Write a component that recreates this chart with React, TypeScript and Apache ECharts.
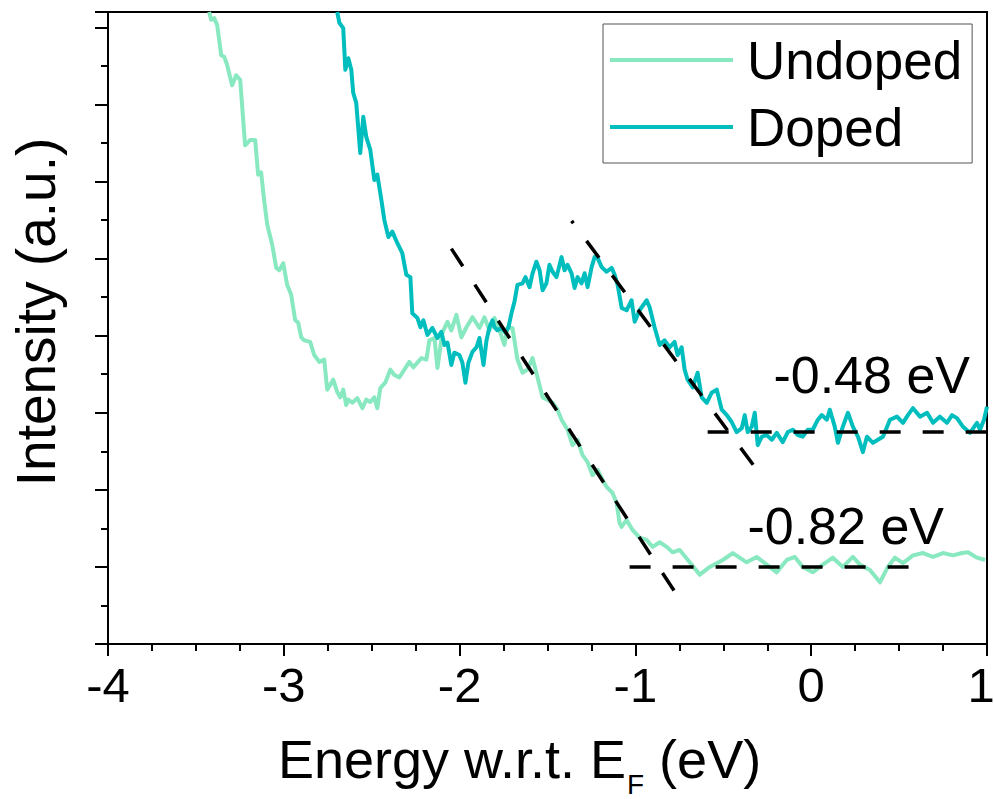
import React, { useEffect, useRef } from "react";
import * as echarts from "echarts";

// Energy w.r.t. E_F (eV), Intensity (a.u.)
const undoped: [number, number][] = [
  [-3.425, 8.2], [-3.413, 8.1], [-3.396, 8.12], [-3.379, 8.03], [-3.356, 7.64], [-3.339, 7.62],
  [-3.322, 7.51], [-3.294, 7.25], [-3.271, 7.38], [-3.248, 7.32], [-3.231, 6.8], [-3.22, 6.47],
  [-3.191, 6.54], [-3.163, 6.54], [-3.146, 6.09], [-3.129, 6.12], [-3.112, 5.76], [-3.094, 5.44],
  [-3.066, 5.18], [-3.043, 4.88], [-3.026, 4.85], [-3.003, 4.94], [-2.981, 4.66], [-2.958, 4.53],
  [-2.935, 4.2], [-2.918, 4.17], [-2.901, 3.98], [-2.884, 3.94], [-2.85, 3.92], [-2.827, 3.75],
  [-2.798, 3.66], [-2.77, 3.69], [-2.753, 3.3], [-2.736, 3.36], [-2.719, 3.43], [-2.696, 3.27],
  [-2.679, 3.2], [-2.662, 3.3], [-2.645, 3.1], [-2.633, 3.17], [-2.61, 3.13], [-2.582, 3.19],
  [-2.553, 3.06], [-2.531, 3.17], [-2.508, 3.14], [-2.485, 3.2], [-2.468, 3.06], [-2.451, 3.32],
  [-2.423, 3.39], [-2.394, 3.56], [-2.371, 3.49], [-2.343, 3.46], [-2.314, 3.56], [-2.286, 3.66],
  [-2.263, 3.59], [-2.24, 3.65], [-2.217, 3.71], [-2.189, 3.69], [-2.172, 3.94], [-2.143, 3.97],
  [-2.126, 3.58], [-2.098, 4.04], [-2.069, 4.18], [-2.047, 4.07], [-2.018, 4.27], [-1.99, 3.98],
  [-1.961, 4.11], [-1.927, 4.24], [-1.887, 4.1], [-1.859, 4.24], [-1.83, 4.07], [-1.802, 4.23],
  [-1.773, 4.07], [-1.745, 3.88], [-1.728, 4.1], [-1.699, 4.1], [-1.671, 3.69], [-1.642, 3.52],
  [-1.614, 3.56], [-1.585, 3.71], [-1.557, 3.46], [-1.528, 3.2], [-1.5, 3.17], [-1.471, 3.13],
  [-1.443, 3.04], [-1.42, 2.91], [-1.386, 2.78], [-1.358, 2.58], [-1.329, 2.65], [-1.301, 2.45],
  [-1.272, 2.36], [-1.244, 2.19], [-1.215, 2.26], [-1.187, 2.13], [-1.164, 2.04], [-1.13, 1.96],
  [-1.107, 1.83], [-1.09, 1.57], [-1.079, 1.52], [-1.05, 1.61], [-1.016, 1.48], [-0.976, 1.38],
  [-0.936, 1.35], [-0.902, 1.26], [-0.862, 1.32], [-0.822, 1.26], [-0.788, 1.19], [-0.748, 1.22],
  [-0.691, 1.06], [-0.634, 0.9], [-0.577, 1.0], [-0.503, 1.09], [-0.446, 1.18], [-0.367, 1.06],
  [-0.31, 1.13], [-0.253, 1.03], [-0.196, 0.93], [-0.139, 1.09], [-0.093, 1.13], [-0.048, 1.0],
  [0.009, 0.93], [0.066, 1.03], [0.123, 1.12], [0.18, 1.0], [0.237, 1.13], [0.277, 1.03],
  [0.334, 0.96], [0.391, 0.8], [0.436, 1.0], [0.476, 1.12], [0.522, 1.05], [0.579, 1.15],
  [0.636, 1.18], [0.693, 1.13], [0.75, 1.18], [0.806, 1.15], [0.858, 1.18], [0.892, 1.19],
  [0.943, 1.12], [0.989, 1.09],
];

const doped: [number, number][] = [
  [-2.696, 8.2], [-2.684, 8.06], [-2.662, 7.99], [-2.65, 7.45], [-2.633, 7.6], [-2.616, 7.45],
  [-2.605, 7.15], [-2.588, 7.02], [-2.565, 6.37], [-2.548, 6.84], [-2.531, 6.58], [-2.508, 6.41],
  [-2.485, 6.02], [-2.468, 6.09], [-2.445, 5.76], [-2.428, 5.5], [-2.405, 5.28], [-2.383, 5.35],
  [-2.354, 5.2], [-2.326, 5.07], [-2.303, 4.79], [-2.28, 4.76], [-2.269, 4.29], [-2.24, 4.23],
  [-2.223, 4.11], [-2.206, 4.2], [-2.183, 4.01], [-2.155, 4.1], [-2.126, 3.97], [-2.104, 4.05],
  [-2.086, 3.88], [-2.069, 3.91], [-2.047, 3.62], [-2.03, 3.78], [-2.001, 3.75], [-1.984, 3.65],
  [-1.967, 3.39], [-1.95, 3.65], [-1.927, 3.79], [-1.904, 3.85], [-1.887, 3.97], [-1.864, 3.62],
  [-1.847, 3.94], [-1.83, 4.11], [-1.813, 4.2], [-1.802, 4.11], [-1.785, 4.07], [-1.762, 4.1],
  [-1.739, 4.04], [-1.722, 4.11], [-1.705, 4.29], [-1.688, 4.44], [-1.671, 4.66], [-1.642, 4.68],
  [-1.625, 4.76], [-1.602, 4.63], [-1.585, 4.81], [-1.563, 4.96], [-1.545, 4.85], [-1.528, 4.59],
  [-1.506, 4.68], [-1.489, 4.92], [-1.471, 4.83], [-1.449, 4.76], [-1.42, 5.02], [-1.403, 4.85],
  [-1.386, 4.92], [-1.363, 4.81], [-1.346, 4.62], [-1.329, 4.76], [-1.306, 4.68], [-1.289, 4.81],
  [-1.272, 4.63], [-1.249, 4.89], [-1.232, 5.02], [-1.215, 5.01], [-1.192, 4.89], [-1.164, 4.83],
  [-1.135, 4.88], [-1.118, 4.79], [-1.101, 4.66], [-1.078, 4.36], [-1.05, 4.33], [-1.022, 4.46],
  [-1.004, 4.18], [-0.976, 4.33], [-0.936, 4.46], [-0.919, 4.37], [-0.891, 4.11], [-0.862, 3.88],
  [-0.834, 3.94], [-0.805, 3.85], [-0.777, 3.92], [-0.76, 3.75], [-0.737, 3.85], [-0.72, 3.56],
  [-0.703, 3.43], [-0.674, 3.33], [-0.646, 3.52], [-0.623, 3.2], [-0.594, 3.13], [-0.566, 3.26],
  [-0.537, 3.3], [-0.509, 3.04], [-0.48, 2.97], [-0.452, 2.88], [-0.424, 2.75], [-0.395, 2.8],
  [-0.378, 2.97], [-0.361, 2.75], [-0.338, 2.82], [-0.321, 3.0], [-0.304, 2.58], [-0.281, 2.69],
  [-0.253, 2.71], [-0.224, 2.65], [-0.196, 2.74], [-0.162, 2.62], [-0.133, 2.75], [-0.105, 2.78],
  [-0.076, 2.71], [-0.048, 2.69], [-0.019, 2.78], [0.009, 2.78], [0.038, 2.91], [0.06, 2.97],
  [0.089, 2.91], [0.106, 3.04], [0.134, 2.82], [0.152, 2.61], [0.18, 2.82], [0.209, 3.0],
  [0.237, 2.82], [0.266, 2.69], [0.294, 2.49], [0.317, 2.69], [0.351, 2.61], [0.379, 2.65],
  [0.408, 2.69], [0.448, 2.91], [0.488, 2.95], [0.522, 2.87], [0.55, 2.97], [0.579, 3.06],
  [0.619, 2.95], [0.659, 3.0], [0.693, 2.87], [0.732, 2.95], [0.772, 2.87], [0.801, 2.97],
  [0.829, 2.93], [0.863, 2.82], [0.903, 2.74], [0.943, 2.87], [0.96, 2.78], [0.983, 2.91],
  [1.0, 3.08],
];

// linear extrapolations (tangent and background lines)
const undopedTangent: [number, number][] = [[-2.047, 5.13], [-0.771, 0.66]];
const undopedBackground: [number, number][] = [[-1.033, 1.0], [0.59, 1.0]];
const dopedTangent: [number, number][] = [[-1.363, 5.49], [-0.315, 2.28]];
const dopedBackground: [number, number][] = [[-0.589, 2.75], [1.0, 2.75]];

const seriesNames = ["Undoped", "Doped"];
const seriesColors = ["#88E8C0", "#00BEBE"];
const onsetLabels = ["-0.48 eV", "-0.82 eV"];

const FONT = "'Liberation Sans', Arial, Helvetica, sans-serif";

export default function App() {
  const ref = useRef<HTMLDivElement>(null);
  useEffect(() => {
    const chart = echarts.init(ref.current!, null, { renderer: "svg" });
    const dashStyle = { color: "#000", width: 3.5, type: [21, 22] };
    const dashSeries = (name: string, data: [number, number][], offset = 0) => ({
      name,
      type: "line",
      data,
      showSymbol: false,
      symbol: "none",
      z: 5,
      silent: true,
      lineStyle: { ...dashStyle, dashOffset: offset, cap: "butt" },
    });
    chart.setOption({
      animation: false,
      backgroundColor: "#fff",
      textStyle: { fontFamily: FONT },
      grid: {
        left: 108,
        right: 7,
        top: 12,
        bottom: 155,
        show: true,
        borderColor: "#000",
        borderWidth: 2,
        backgroundColor: "transparent",
        containLabel: false,
        outerBoundsMode: "none",
      },
      legend: {
        data: seriesNames,
        orient: "vertical",
        left: 603,
        top: 24,
        icon: "rect",
        itemWidth: 123,
        itemHeight: 4,
        itemGap: 7,
        padding: [6, 10, 6, 7],
        borderColor: "#555",
        borderWidth: 1,
        textStyle: {
          fontSize: 53,
          color: "#000",
          fontFamily: FONT,
          lineHeight: 60,
          padding: [0, 0, 0, 9],
        },
      },
      xAxis: {
        type: "value",
        min: -4,
        max: 1,
        interval: 1,
        axisLine: { onZero: false, lineStyle: { color: "#000", width: 2 } },
        axisTick: { inside: false, length: 12, lineStyle: { color: "#000", width: 2 } },
        minorTick: { show: true, splitNumber: 4, length: 7, lineStyle: { color: "#000", width: 2 } },
        splitLine: { show: false },
        minorSplitLine: { show: false },
        axisLabel: {
          fontSize: 49,
          color: "#000",
          margin: 16,
          fontFamily: FONT,
          formatter: (v: number) => (v === 1 ? "{edge|1}" : String(v)),
          rich: {
            edge: { fontSize: 49, color: "#000", fontFamily: FONT, padding: [0, 12, 0, 0] },
          },
        },
        name: "Energy w.r.t. E{sub|F} (eV)",
        nameLocation: "middle",
        nameGap: 88,
        nameTextStyle: {
          fontSize: 54,
          color: "#000",
          fontFamily: FONT,
          padding: [0, 56, 0, 0],
          rich: {
            sub: { fontSize: 28, color: "#000", fontFamily: FONT, lineHeight: 28, padding: [50, 0, 0, 1] },
          },
        },
      },
      yAxis: {
        type: "value",
        min: 0,
        max: 8.2,
        interval: 1,
        axisLine: { onZero: false, lineStyle: { color: "#000", width: 2 } },
        axisTick: { inside: false, length: 13, lineStyle: { color: "#000", width: 2 } },
        minorTick: { show: true, splitNumber: 2, length: 7, lineStyle: { color: "#000", width: 2 } },
        splitLine: { show: false },
        minorSplitLine: { show: false },
        axisLabel: { show: false },
        name: "Intensity (a.u.)",
        nameLocation: "middle",
        nameGap: 45,
        nameTextStyle: { fontSize: 55, color: "#000", fontFamily: FONT, padding: [0, 0, 0, 32] },
      },
      series: [
        {
          name: seriesNames[0],
          type: "line",
          data: undoped,
          showSymbol: false,
          symbol: "none",
          z: 3,
          lineStyle: { color: seriesColors[0], width: 4, join: "round" },
          itemStyle: { color: seriesColors[0] },
        },
        {
          name: seriesNames[1],
          type: "line",
          data: doped,
          showSymbol: false,
          symbol: "none",
          z: 4,
          lineStyle: { color: seriesColors[1], width: 4, join: "round" },
          itemStyle: { color: seriesColors[1] },
        },
        dashSeries("Undoped tangent", undopedTangent),
        dashSeries("Undoped background", undopedBackground),
        dashSeries("Doped tangent", dopedTangent, 18),
        dashSeries("Doped background", dopedBackground),
      ],
      graphic: [
        {
          type: "text",
          x: 970,
          y: 375,
          z: 10,
          style: {
            text: onsetLabels[0],
            fill: "#000",
            fontSize: 52,
            fontFamily: FONT,
            align: "right",
            verticalAlign: "middle",
          },
        },
        {
          type: "text",
          x: 944,
          y: 526,
          z: 10,
          style: {
            text: onsetLabels[1],
            fill: "#000",
            fontSize: 52,
            fontFamily: FONT,
            align: "right",
            verticalAlign: "middle",
          },
        },
      ],
    });
    return () => chart.dispose();
  }, []);
  return (
    <div
      ref={ref}
      style={{ position: "fixed", left: 0, top: 0, width: 994, height: 799, background: "#fff" }}
    />
  );
}
